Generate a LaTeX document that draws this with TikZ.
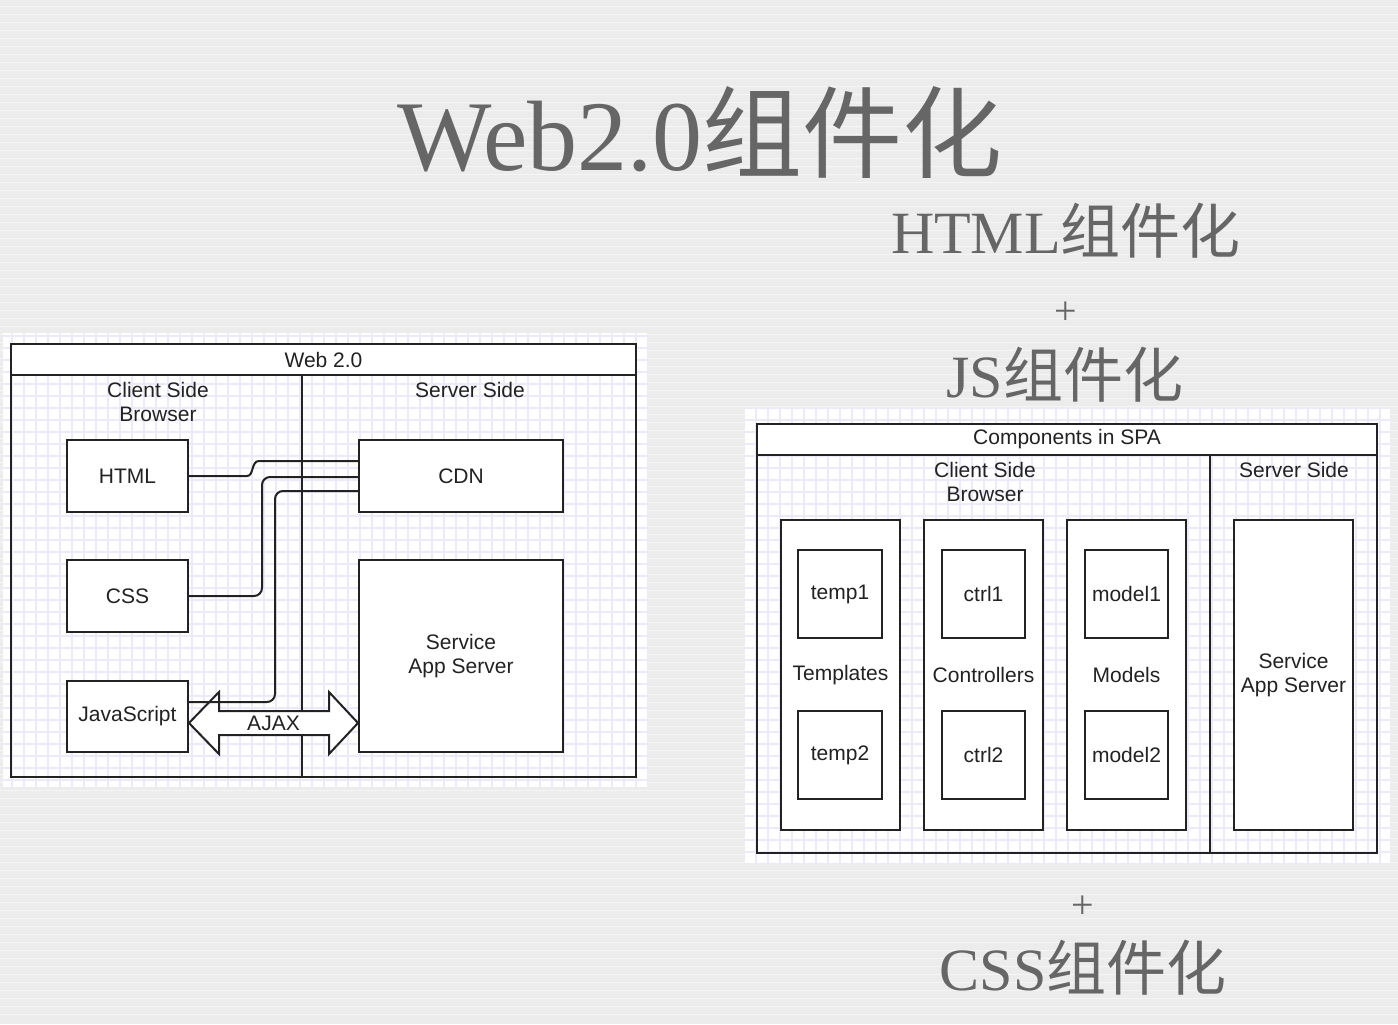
\documentclass[tikz,border=0pt]{standalone}
\usepackage{fontspec}
\setmainfont{Liberation Serif}
\setsansfont{Liberation Sans}
\newfontfamily\cjk{Noto Sans CJK SC}
\usetikzlibrary{calc}
\definecolor{paper}{HTML}{ECECEC}
\definecolor{titlec}{HTML}{666666}
\definecolor{gridc}{HTML}{ECEAFA}
\definecolor{linec}{HTML}{222222}
\newcommand{\diagfont}{\sffamily\fontsize{10.5}{12}\selectfont}
\tikzset{
  box/.style={draw=linec, line width=1pt, fill=white, inner sep=0pt, font=\diagfont, text=linec, align=center},
  lbl/.style={font=\diagfont, text=linec, align=center, inner sep=0pt},
  conn/.style={draw=linec, line width=1pt},
  bigtitle/.style={text=titlec, inner sep=0pt, anchor=base},
  panel/.style={fill=white, draw=none},
}
% \mybox[style]{name}{x1}{y1}{x2}{y2}{text}
\newcommand{\mybox}[7][]{%
  \pgfmathsetmacro\mbw{(#5-#3)*0.5}%
  \pgfmathsetmacro\mbh{(#6-#4)*0.5}%
  \pgfmathsetmacro\mbx{(#3+#5)/2}%
  \pgfmathsetmacro\mby{(#4+#6)/2}%
  \node[box, minimum width=\mbw pt, minimum height=\mbh pt, #1] (#2) at (\mbx,\mby) {#7};%
}
\begin{document}
\begin{tikzpicture}[x=0.5pt, y=-0.5pt]
\useasboundingbox (0,0) rectangle (1398,1024);
\fill[paper] (0,0) rectangle (1398,1024);
% paper texture
\foreach \yy in {6,14,...,1020} {
  \draw[white, line width=0.4pt, opacity=0.5] (0,\yy) -- (1398,\yy);
}
% titles
\node[bigtitle, font=\fontsize{50}{56}\selectfont] (title) at (700,170) {Web2.0{\cjk 组件化}};
\node[bigtitle, font=\fontsize{30}{34}\selectfont] (htmlt) at (1066,253) {HTML{\cjk 组件化}};
\node[text=titlec, font=\fontsize{20}{24}\selectfont, inner sep=0pt] (plus1) at (1066,313) {+};
\node[bigtitle, font=\fontsize{30}{34}\selectfont] (jst) at (1065,397) {JS{\cjk 组件化}};
\node[text=titlec, font=\fontsize{20}{24}\selectfont, inner sep=0pt] (plus2) at (1083,907) {+};
\node[bigtitle, font=\fontsize{30}{34}\selectfont] (csst) at (1083,990) {CSS{\cjk 组件化}};

% ===== left panel =====
\fill[panel] (3,333) rectangle (648,787);
\begin{scope}
\clip (3,333) rectangle (648,787);
\draw[gridc, line width=0.6pt, step=6pt] (0,330) grid (650,790);
\end{scope}
\mybox[fill=none]{web}{11}{344}{636}{777}{}
\mybox{webtitle}{11}{344}{636}{375}{Web 2.0}
\coordinate (divx) at (302,0);
\draw[conn] (webtitle.south -| divx) -- (web.south -| divx);
\node[lbl] (lclient) at (158,402) {Client Side\\Browser};
\node[lbl] (lserver) at (470,390) {Server Side};
\mybox{html}{67}{440}{188}{512}{HTML}
\mybox{css}{67}{560}{188}{632}{CSS}
\mybox{js}{67}{681}{188}{752}{JavaScript}
\mybox{cdn}{359}{440}{563}{512}{CDN}
\mybox{svc}{359}{560}{563}{752}{Service\\App Server}
% AJAX double arrow
\coordinate (ajaxy) at (0,723);
\coordinate (al) at (js.east |- ajaxy);
\coordinate (ar) at (svc.west |- ajaxy);
\draw[conn, fill=white, line join=miter] (al) -- ($(al)+(30,-31)$) -- ($(al)+(30,-12)$) -- ($(ar)+(-29,-12)$) -- ($(ar)+(-29,-31)$) -- (ar) -- ($(ar)+(-29,31)$) -- ($(ar)+(-29,12)$) -- ($(al)+(30,12)$) -- ($(al)+(30,31)$) -- cycle;
\node[lbl] (ajax) at ($(al)!0.5!(ar)$) {AJAX};
% connectors to CDN
\draw[conn] (html.east) -- (247,476) .. controls (254,476) and (251,461) .. (259,461) -- ($(cdn.west)+(0,-15)$);
\draw[conn, rounded corners=4pt] (css.east) -| (262,477) -- ($(cdn.west)+(0,1)$);
\draw[conn, rounded corners=4pt] ($(js.east)+(0,-14.5)$) -| (275,491) -- ($(cdn.west)+(0,15)$);

% ===== right panel =====
\fill[panel] (745,408) rectangle (1390,863);
\begin{scope}
\clip (745,408) rectangle (1390,863);
\draw[gridc, line width=0.6pt, step=6pt] (740,400) grid (1398,870);
\end{scope}
\mybox[fill=none]{spa}{757}{424}{1377}{853}{}
\mybox{spatitle}{757}{424}{1377}{455}{Components in SPA}
\coordinate (divr) at (1210,0);
\draw[conn] (spatitle.south -| divr) -- (spa.south -| divr);
\node[lbl] (rclient) at (985,482) {Client Side\\Browser};
\node[lbl] (rserver) at (1294,470) {Server Side};
\mybox{tcol}{781}{520}{900}{830}{Templates}
\mybox{ccol}{924}{520}{1043}{830}{Controllers}
\mybox{mcol}{1067}{520}{1186}{830}{Models}
\mybox{temp1}{798}{550}{882}{638}{temp1}
\mybox{temp2}{798}{711}{882}{799}{temp2}
\mybox{ctrl1}{942}{550}{1025}{638}{ctrl1}
\mybox{ctrl2}{942}{711}{1025}{799}{ctrl2}
\mybox{model1}{1085}{550}{1168}{638}{model1}
\mybox{model2}{1085}{711}{1168}{799}{model2}
\mybox{rsvc}{1234}{520}{1353}{830}{Service\\App Server}
\end{tikzpicture}
\end{document}
